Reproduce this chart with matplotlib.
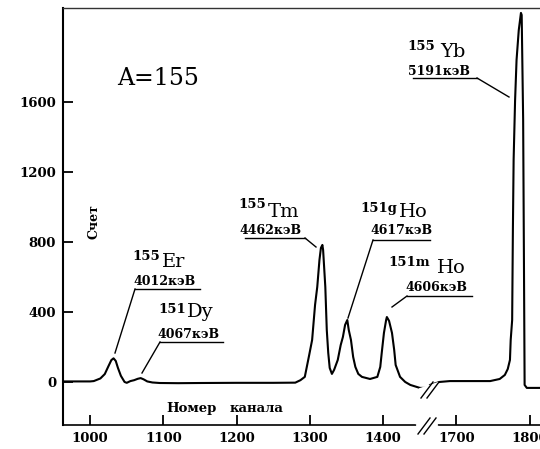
import matplotlib
matplotlib.use("Agg")
import matplotlib.pyplot as plt
from matplotlib.lines import Line2D

# ---------------- data ----------------
# left segment (channels 960-1457)
ch_left = [960, 980, 1000, 1005, 1014, 1020, 1025, 1029, 1032, 1035, 1038, 1042, 1047,
           1050, 1055, 1060, 1065, 1069, 1073, 1078, 1085, 1095, 1120, 1150, 1200, 1250,
           1280, 1287, 1293, 1299, 1303, 1307, 1310, 1313, 1315, 1317, 1318, 1321, 1323,
           1325, 1327, 1330, 1333, 1338, 1342, 1345, 1348, 1351, 1353, 1356, 1359, 1362,
           1366, 1371, 1382, 1392, 1396, 1398, 1401, 1404, 1405, 1408, 1412, 1415, 1417,
           1423, 1430, 1437, 1450, 1457]
cnt_left = [3, 3, 3, 5, 20, 45, 90, 125, 135, 120, 80, 35, 0,
            -5, 5, 10, 18, 22, 15, 3, -3, -6, -7, -6, -5, -5,
            -4, 10, 29, 154, 240, 440, 543, 697, 766, 783, 754, 543, 297,
            166, 80, 46, 69, 126, 211, 257, 326, 354, 297, 240, 143, 86,
            46, 29, 17, 29, 86, 166, 280, 354, 371, 349, 280, 183, 97,
            29, 0, -17, -34, -34]
# right segment (channels 1664-1814)
ch_right = [1664, 1677, 1691, 1705, 1725, 1746, 1759, 1766, 1770, 1773, 1774, 1776,
            1777, 1778, 1780, 1782, 1785, 1788, 1789, 1791, 1792, 1793, 1796, 1814]
cnt_right = [-17, 0, 5, 5, 5, 5, 17, 40, 74, 126, 240, 354,
             870, 1270, 1610, 1840, 2010, 2109, 2097, 1500, 754, -17, -34, -34]

x_ticks_real = [1000, 1100, 1200, 1300, 1400, 1700, 1800]
y_ticks = [0, 400, 800, 1200, 1600]

iso_mass = ["155", "151", "155", "151g", "151m", "155"]
iso_elem = ["Er", "Dy", "Tm", "Ho", "Ho", "Yb"]
iso_energy = ["4012кэВ", "4067кэВ", "4462кэВ", "4617кэВ", "4606кэВ", "5191кэВ"]

# --------------- layout ---------------
W, H = 540, 449
SHIFT = 200          # channels removed by the axis break
BREAK_AT = 1600      # channels above this are shifted left by SHIFT


def to_plot(c):
    return c - SHIFT if c > BREAK_AT else c


fig = plt.figure(figsize=(W / 100, H / 100), dpi=100)
ax = fig.add_axes([63 / W, 24 / H, (W - 63) / W, (425 - 8) / H])

ax.plot([to_plot(c) for c in ch_left], cnt_left, color="black", lw=1.5,
        solid_joinstyle="round")
ax.plot([to_plot(c) for c in ch_right], cnt_right, color="black", lw=1.5,
        solid_joinstyle="round")

ax.set_xlim(963, 1614)
ax.set_ylim(-246, 2137)

ax.set_xticks([to_plot(c) for c in x_ticks_real])
ax.set_xticklabels([str(c) for c in x_ticks_real])
ax.set_yticks(y_ticks)
ax.set_yticklabels([str(v) for v in y_ticks])

for lab in ax.get_xticklabels() + ax.get_yticklabels():
    lab.set_fontfamily("DejaVu Serif")
    lab.set_fontweight("bold")
    lab.set_fontsize(9.5)
ax.tick_params(axis="both", direction="in", length=7.5, width=1.3, color="black")
ax.tick_params(axis="x", pad=5)
ax.tick_params(axis="y", pad=5)

ax.spines["right"].set_visible(False)
ax.spines["left"].set_linewidth(1.5)
ax.spines["bottom"].set_linewidth(1.2)
ax.spines["top"].set_linewidth(1.0)
ax.spines["top"].set_color("#333333")


def fx(px):
    return px / W


def fy(py):
    return 1 - py / H


def fline(xs, ys, lw=1.0, color="black"):
    fig.add_artist(Line2D([fx(x) for x in xs], [fy(y) for y in ys],
                          transform=fig.transFigure, color=color, lw=lw))


# axis break marks (on axis and on curve)
for (bx, by) in [(425, 425), (428, 389)]:
    fline([bx - 4, bx + 8], [by + 2, by - 2], lw=6, color="white")
    fline([bx - 7, bx + 5], [by + 9, by - 7], lw=1.0)
    fline([bx - 1, bx + 11], [by + 9, by - 7], lw=1.0)

# texts
fig.text(fx(117), fy(85), "A=155", family="DejaVu Serif", size=17,
         ha="left", va="baseline")
fig.text(fx(94), fy(222), "Счет", family="DejaVu Serif", weight="bold", size=9,
         rotation=90, ha="center", va="center")
fig.text(fx(166), fy(412), "Номер", family="DejaVu Serif", weight="bold", size=9.5,
         ha="left", va="baseline")
fig.text(fx(230), fy(412), "канала", family="DejaVu Serif", weight="bold", size=9.5,
         ha="left", va="baseline")

# label layouts: sup(x, baseline), elem(x, baseline), energy(x, baseline),
# underline (x0, x1, y), leader from (lx, ly) to (tx, ty)
layouts = [
    dict(sup=(132, 260), elem=(162, 267), en=(133, 285), ul=(135, 200, 289),
         lead=((135, 289), (115, 353))),
    dict(sup=(158, 313), elem=(187, 317), en=(157, 338), ul=(160, 223, 342),
         lead=((160, 342), (142, 373))),
    dict(sup=(238, 208), elem=(268, 217), en=(239, 234), ul=(245, 305, 238),
         lead=((305, 238), (316, 247))),
    dict(sup=(360, 212), elem=(399, 217), en=(370, 234), ul=(373, 430, 240),
         lead=((373, 240), (348, 318))),
    dict(sup=(388, 266), elem=(437, 273), en=(405, 291), ul=(407, 472, 296),
         lead=((407, 296), (392, 307))),
    dict(sup=(407, 50), elem=(440, 57), en=(408, 75), ul=(413, 477, 78),
         lead=((477, 78), (509, 97))),
]

for m, e, en, L in zip(iso_mass, iso_elem, iso_energy, layouts):
    fig.text(fx(L["sup"][0]), fy(L["sup"][1]), m, family="DejaVu Serif",
             weight="bold", size=9.5, ha="left", va="baseline")
    fig.text(fx(L["elem"][0]), fy(L["elem"][1]), e, family="DejaVu Serif",
             size=14, ha="left", va="baseline")
    fig.text(fx(L["en"][0]), fy(L["en"][1]), en, family="DejaVu Serif",
             weight="bold", size=9, ha="left", va="baseline")
    x0, x1, uy = L["ul"]
    fline([x0, x1], [uy, uy], lw=1.0)
    (lx, ly), (tx, ty) = L["lead"]
    fline([lx, tx], [ly, ty], lw=1.0)

fig.savefig("out.png", dpi=100)
